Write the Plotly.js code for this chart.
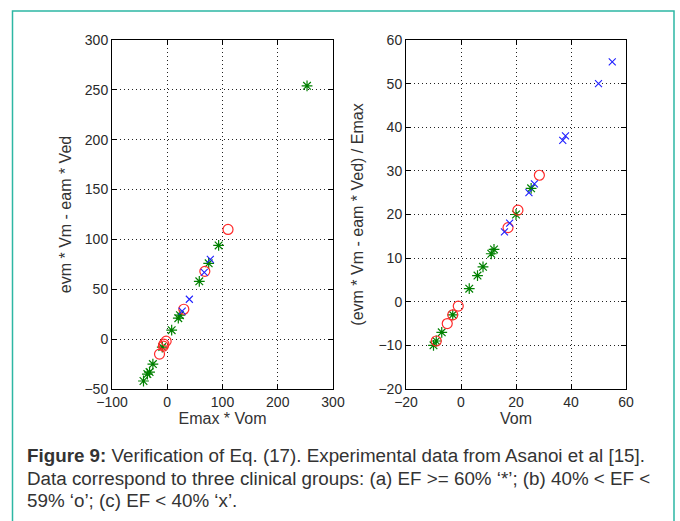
<!DOCTYPE html>
<html><head><meta charset="utf-8">
<script src="https://cdn.plot.ly/plotly-3.0.1.min.js"></script>
<style>html,body{margin:0;padding:0;background:#fff;} #chart{width:680px;height:521px;}</style>
</head><body><div id="chart"></div>
<script>
// ---- data ----
const leftStarX = [253, 93, 75, 58, 23, 20, 8, -9, -26, -32, -36, -43];
const leftStarY = [254, 94, 76, 58, 24, 21, 9, -8, -25, -33, -35, -42];
const leftCircleX = [110, 68, 30, -2, -6, -7, -14];
const leftCircleY = [110, 68, 30, -2, -5, -7, -15];
const leftCrossX = [78, 67, 40, 27];
const leftCrossY = [80, 67, 40, 28];

const rightStarX = [25.5, 20, 12, 11, 8, 6, 3, -3, -7, -9, -10];
const rightStarY = [26, 20, 12, 11, 8, 6, 3, -3, -7, -9, -10];
const rightCircleX = [28.5, 20.7, 17.1, -1, -3, -5, -9];
const rightCircleY = [29, 21, 17, -1, -3, -5, -9];
const rightCrossX = [55, 50, 37, 38, 26.7, 24.7, 17.7, 15.8];
const rightCrossY = [55, 50, 37, 38, 27, 25, 18, 16];

const leftXTitle = 'Emax * Vom';
const leftYTitle = 'evm * Vm - eam * Ved';
const rightXTitle = 'Vom';
const rightYTitle = '(evm * Vm - eam * Ved) / Emax';
const captionLines = [
  '<b>Figure 9:</b> Verification of Eq. (17). Experimental data from Asanoi et al [15].',
  'Data correspond to three clinical groups: (a) EF &gt;= 60% \u2018*\u2019; (b) 40% &lt; EF &lt;',
  '59% \u2018o\u2019; (c) EF &lt; 40% \u2018x\u2019.'
];

// ---- layout helpers ----
const W = 680, H = 521;
const fx = p => p / W;
const fy = p => 1 - p / H;

const green = '#008000', red = '#ff2a2a', blue = '#2020ff';
function starTrace(x, y, xa, ya) {
  return {x, y, xaxis: xa, yaxis: ya, type: 'scatter', mode: 'markers', hoverinfo: 'skip',
    marker: {symbol: 'asterisk-open', size: 9, color: green, line: {color: green, width: 1.2}}};
}
function circleTrace(x, y, xa, ya) {
  return {x, y, xaxis: xa, yaxis: ya, type: 'scatter', mode: 'markers', hoverinfo: 'skip',
    marker: {symbol: 'circle-open', size: 10, color: red, line: {color: red, width: 1.2}}};
}
function crossTrace(x, y, xa, ya) {
  return {x, y, xaxis: xa, yaxis: ya, type: 'scatter', mode: 'markers', hoverinfo: 'skip',
    marker: {symbol: 'x-thin-open', size: 7, color: blue, line: {color: blue, width: 1.1}}};
}

const data = [
  starTrace(leftStarX, leftStarY, 'x', 'y'),
  circleTrace(leftCircleX, leftCircleY, 'x', 'y'),
  crossTrace(leftCrossX, leftCrossY, 'x', 'y'),
  starTrace(rightStarX, rightStarY, 'x2', 'y2'),
  circleTrace(rightCircleX, rightCircleY, 'x2', 'y2'),
  crossTrace(rightCrossX, rightCrossY, 'x2', 'y2')
];

const tickFont = {family: 'Liberation Sans, Arial, sans-serif', size: 14, color: '#2a2a2a'};
const titleFont = {family: 'Liberation Sans, Arial, sans-serif', size: 16, color: '#333'};
function axis(extra) {
  return Object.assign({
    showline: true, linecolor: '#000', linewidth: 1, mirror: 'allticks',
    ticks: 'inside', ticklen: 5, tickcolor: '#000', tickwidth: 1,
    showgrid: true, gridcolor: '#222', gridwidth: 1, griddash: '1px,3px',
    zeroline: false, tickfont: tickFont, fixedrange: true, automargin: false
  }, extra);
}

const yTop = fy(40), yBot = fy(389);
const layout = {
  width: W, height: H,
  margin: {l: 0, r: 0, t: 0, b: 0},
  paper_bgcolor: '#fff', plot_bgcolor: '#fff',
  showlegend: false,
  xaxis: axis({domain: [fx(112), fx(333)], range: [-100, 300], dtick: 100, tick0: 0, anchor: 'y',
    title: {text: leftXTitle, font: titleFont, standoff: 1}}),
  yaxis: axis({domain: [yBot, yTop], range: [-50, 300], dtick: 50, tick0: 0, anchor: 'x',
    title: {text: leftYTitle, font: titleFont, standoff: 8}}),
  xaxis2: axis({domain: [fx(406), fx(626)], range: [-20, 60], dtick: 20, tick0: 0, anchor: 'y2',
    title: {text: rightXTitle, font: titleFont, standoff: 1}}),
  yaxis2: axis({domain: [yBot, yTop], range: [-20, 60], dtick: 10, tick0: 0, anchor: 'x2',
    title: {text: rightYTitle, font: titleFont, standoff: 10}}),
  shapes: [{type: 'rect', xref: 'paper', yref: 'paper',
    x0: fx(12.5), x1: fx(674), y0: fy(11), y1: fy(540),
    line: {color: '#2db7a4', width: 1.5}, fillcolor: 'rgba(0,0,0,0)', layer: 'above'}],
  annotations: captionLines.map((t, i) => ({
    text: t, xref: 'paper', yref: 'paper', x: fx(25), y: fy([455, 478, 500][i]),
    xanchor: 'left', yanchor: 'middle', showarrow: false, align: 'left',
    font: {family: 'Liberation Sans, Arial, sans-serif', size: 18.8, color: '#333'}
  }))
};

Plotly.newPlot('chart', data, layout, {staticPlot: true, displayModeBar: false});
</script>
</body></html>
